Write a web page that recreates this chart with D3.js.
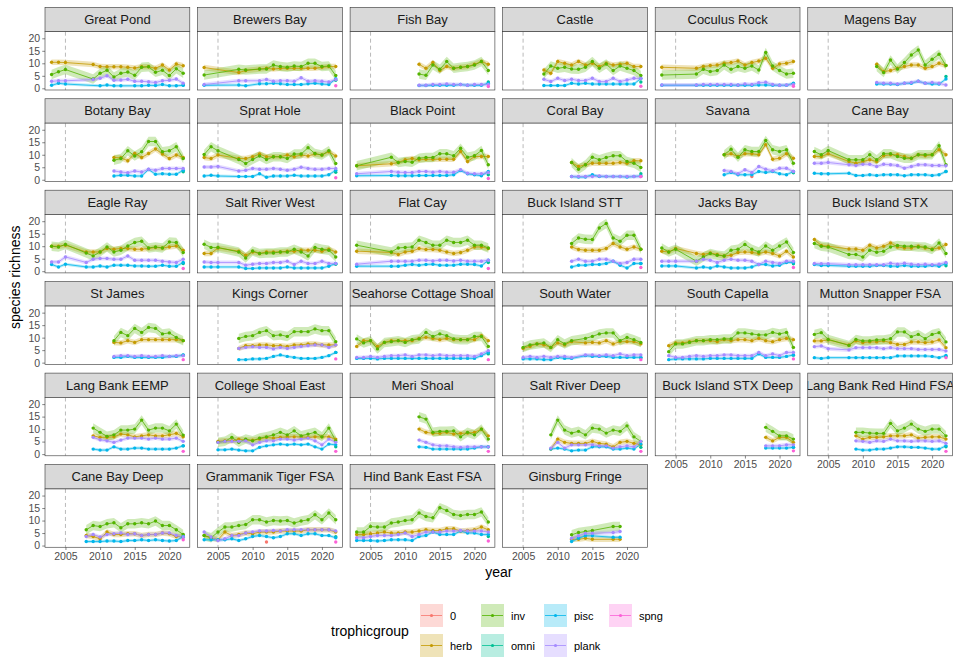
<!DOCTYPE html>
<html>
<head>
<meta charset="utf-8">
<script src="https://cdn.jsdelivr.net/npm/d3@7"></script>
<style>
  body { margin: 0; background: #fff; }
  svg { display: block; font-family: "Liberation Sans", Arial, Helvetica, sans-serif; }
</style>
</head>
<body>
<div id="chart"></div>
<script>
// trophic groups and ggplot hue colours
var groups = ["0", "herb", "inv", "omni", "pisc", "plank", "spng"];
var groupColors = ["#F8766D", "#C49A00", "#53B400", "#00C094", "#00B6EB", "#A58AFF", "#FB61D7"];

var sites = ["Great Pond", "Brewers Bay", "Fish Bay", "Castle", "Coculus Rock", "Magens Bay",
  "Botany Bay", "Sprat Hole", "Black Point", "Coral Bay", "Savana", "Cane Bay",
  "Eagle Ray", "Salt River West", "Flat Cay", "Buck Island STT", "Jacks Bay", "Buck Island STX",
  "St James", "Kings Corner", "Seahorse Cottage Shoal", "South Water", "South Capella", "Mutton Snapper FSA",
  "Lang Bank EEMP", "College Shoal East", "Meri Shoal", "Salt River Deep", "Buck Island STX Deep", "Lang Bank Red Hind FSA",
  "Cane Bay Deep", "Grammanik Tiger FSA", "Hind Bank East FSA", "Ginsburg Fringe"];

// survey years
var yrsGP = [2003, 2004, 2005, 2009, 2010, 2011, 2012, 2013, 2014, 2015, 2016, 2017, 2018, 2019, 2020, 2021, 2022];
var yrsBB = [2003, 2008, 2009, 2011, 2012, 2013, 2014, 2015, 2016, 2017, 2018, 2019, 2020, 2021, 2022];
var yrs12 = [2012, 2013, 2014, 2015, 2016, 2017, 2018, 2019, 2020, 2021, 2022];
var yrs08 = [2008, 2009, 2010, 2011, 2012, 2013, 2014, 2015, 2016, 2017, 2018, 2019, 2020, 2021, 2022];
var yrs03b = [2003, 2008, 2009, 2010, 2011, 2012, 2013, 2014, 2015, 2016, 2017, 2018, 2019, 2020, 2021, 2022];
var yrsA = [2003, 2004, 2005, 2008, 2009, 2010, 2011, 2012, 2013, 2014, 2015, 2016, 2017, 2018, 2019, 2020, 2021, 2022];
var yrs03 = [2003, 2004, 2005, 2006, 2007, 2008, 2009, 2010, 2011, 2012, 2013, 2014, 2015, 2016, 2017, 2018, 2019, 2020, 2021, 2022];
var yrsSW = [2005, 2006, 2007, 2008, 2009, 2010, 2011, 2012, 2014, 2015, 2016, 2017, 2018, 2019, 2020, 2021, 2022];
var yrs04 = [2004, 2005, 2006, 2007, 2008, 2009, 2010, 2011, 2012, 2013, 2014, 2015, 2016, 2017, 2018, 2019, 2020, 2021, 2022];
var yrs05 = [2005, 2006, 2007, 2008, 2009, 2010, 2011, 2012, 2013, 2014, 2015, 2016, 2017, 2018, 2019, 2020, 2021, 2022];
var yrs09 = [2009, 2010, 2011, 2012, 2013, 2014, 2015, 2016, 2017, 2018, 2019, 2020, 2021, 2022];
var yrs18 = [2018, 2019, 2020, 2021, 2022];
var yrsGF = [2012, 2013, 2014, 2015, 2018, 2019];

var siteYears = [yrsGP, yrsBB, yrs12, yrs08, yrs03b, yrs12,
  yrs12, yrsA, yrs03b, yrs12, yrs12, yrsA,
  yrsA, yrsA, yrs03b, yrs12, yrsA, yrsA,
  yrs12, yrs08, yrs03, yrsSW, yrs04, yrsA,
  yrs09, yrs05, yrs12, yrs09, yrs18, yrs09,
  yrs08, yrs03, yrs03, yrsGF];

var herbVals = [
  [10.4,10.4,10.3,9.5,8.7,8.6,8.6,8.6,8.4,8.1,8.6,8.6,8.0,9.3,7.3,9.7,9.0],
  [8.3,6.3,7.1,7.7,8,7.7,8,8,8,8,8,8,8.4,8.7,8.7],
  [9.6,8.0,10.3,7.1,8.7,8.0,8.4,8.7,9.6,10.7,9.6],
  [7.3,6.0,10.7,10,9.3,10.7,9.3,10,8.7,10,9.3,9.6,10,8.7,8.7],
  [8.4,8,8.7,9.1,9.3,10,10.3,10.9,9.3,10.3,10.9,12,8,9.7,10,10.7],
  [9.6,6.7,7.1,8,8.7,9.3,9.3,8,8.7,10,9.1],
  [8.9,8.8,7.6,10.5,8.9,10.5,12.3,10.3,8.5,9.9,8.9],
  [8.9,8.5,9.9,8.5,8.5,9.2,10.3,9.2,9.2,9.2,9.9,9.2,9.9,9.5,10.3,9.9,11.2,9.5],
  [5.6,6.4,6.9,8,8.5,8,8.2,8.2,8.2,8.2,8.2,11.3,7.3,9.3,9.3,9.3],
  [6.9,5.3,6,6.6,6.6,6.6,6.6,6.9,6.6,7.6,7.6],
  [10,10.4,9.3,10.4,10.4,10,14,8.2,8.6,10.4,8.6],
  [9.3,9.3,10.4,7.3,6.6,7.3,8,7.3,9.6,10,10,9.3,8.6,10,9.6,10,12,10],
  [10,10,10.4,7.7,7.7,7.7,9.1,8.8,9.1,9.1,8.8,8.8,9.1,9.5,9.3,9.7,10.1,8.4],
  [7.1,7.1,9.3,8,6.4,7.7,7.1,7.7,7.7,7.7,8,8,8.4,8.4,8.4,8,8.8,7.7],
  [8,7.5,6.7,7.7,8,9.1,8.7,8.7,8.4,7.7,7.1,7.5,8.4,9.7,9.7,9.1],
  [9.7,8.7,8.4,8.4,8.4,9.1,11.1,9.7,8.8,9.7,8.8],
  [8,7.7,9.1,7.1,6.7,7.3,6.7,6.1,6.4,7.5,7.7,7.5,7.1,7.7,7.1,6.1,8,5.7],
  [12.7,10.3,10,8.9,8.9,8.4,10.4,9.3,10,11.3,9.7,9.3,9.3,10,9.3,8.9,9.3,10.7],
  [8.1,7.9,8.8,8.1,9.2,9.2,9.2,9.2,9.2,9.2,8.8],
  [5.7,6.8,6.8,7.1,7.1,6.8,6.8,6.5,7.1,7.1,7.5,7.5,7.1,7.1,7.1],
  [6.5,8.8,8.8,6.5,8.1,8.8,8.8,8.8,8.8,9.7,10.1,9.7,9.2,9.7,9.2,9.2,9.2,9.2,10.8,8.8],
  [5.7,6.5,7.5,7.1,6.1,7.9,7.1,8.4,7.9,8.1,7.9,8.8,7.5,8.4,8.4,8.4,7.5],
  [6.8,7.9,7.9,8.4,8.8,8.8,8.8,8.4,9.2,8.8,9.2,9.2,8.8,9.7,8.8,8.4,9.2,9.7,9.2],
  [8.7,8.7,9.1,7.1,8.7,8,8.3,8.3,8.7,8,7.3,7.3,8.3,8.3,8,8.3,9.1,6],
  [7.3,6.7,6.7,6.9,8,7.7,6.9,7.3,7.7,7.3,7.3,7.7,8.3,6.9],
  [5.1,5.3,5.3,6,5.6,5.6,6,6.7,6.4,6.7,6.9,6.9,6.9,6.7,6.9,6.9,6.9,6],
  [10,8.7,8.3,8.3,8.7,8,8.3,8.4,8.7,10,7.3],
  [2,6,4.7,4.3,4.3,4.3,5.1,4.3,4,2.9,4.7,5.1,4.3,3.7],
  [6.7,5.3,6.7,6.7,4.7],
  [7.3,6,6.7,6.7,6.9,7.3,7.3,7.3,7.7,6.4,6.7,6.9,6.9,6],
  [4,3.6,2.7,5.4,4.4,4.4,4.7,4.7,4,4.4,4.4,5,4.7,3.6,3.6],
  [4,3.1,2.3,5.4,4,4.4,5,4.7,5.4,5.4,5.4,5.8,5.8,5.8,5.8,6.3,6.3,6.3,6.3,5.4],
  [4.4,4.4,4.7,5,5.4,5,5,5.4,5.4,5.8,6.3,6,6,6.7,6.7,5.8,6,6.3,7.4,6.3],
  [2.5,2.5,2.9,2.5,2.5,2.5]
];

var invVals = [
  [5.5,6.6,7.5,3.7,6.0,7.2,4.5,6.0,6.5,5.2,8.4,8.6,6.4,7.2,5.1,7.8,6.0],
  [5.3,7.6,7.3,7.7,7.7,9.3,8.7,8.4,8.9,8.7,10,10,8.7,8.9,5.1],
  [5.7,5.2,9.3,7.6,10.7,8.0,8.4,8.7,9.3,10.7,7.1],
  [5.7,8.9,8,8.4,7.7,7.6,8.4,10.7,8,9.7,7.1,8.9,8,7.1,5.1],
  [5.3,5.7,7.6,6.7,7.1,9.3,7.6,8.7,8,8.9,7.3,14.3,8.9,7.1,5.7,6],
  [8.7,6.3,11.3,7.7,10.3,13.3,15.3,9.3,11.6,13.6,9.1],
  [7.8,8.5,11.6,9.5,11.2,15.3,15.3,11.2,11.6,13.2,8.5],
  [10.1,13.2,11.6,8.1,6.5,8.1,9.5,8.1,9.2,9.2,8.5,10.3,10.3,12.8,10.5,9.9,11.6,6.5],
  [5.6,9,6.9,7.3,7,8.6,8.9,8.9,10.4,10.4,9.6,12.6,9,9.6,11.7,6],
  [6.9,4.2,6,9,8,8.9,9.6,9.6,7.3,6.6,4.9],
  [10,12.2,9,12,11.3,11.3,15.7,12,11.3,12,6.6],
  [11.3,10,11.7,8,8,8,10,8,10.4,10.4,9.3,8.6,8.6,10,10,10,13.6,6],
  [10,9.7,10.7,7.3,6.1,7.7,9.7,7.7,8.4,10.1,11.5,12,9.3,9.7,9.3,11.7,11.5,7.5],
  [10.8,9.5,9.5,7.7,5.3,8.1,7.1,7.3,7.3,7.7,7.7,8.8,7.7,6.1,9.5,8.8,8.4,5.7],
  [10.4,7.7,9.3,9.5,9.7,12.4,11.5,10.4,10.4,12.4,11.5,11.5,12.4,10.4,10.4,9.3],
  [11.1,13.3,12.8,12.7,17.3,19.1,13.3,12,14.4,14.4,8.8],
  [9.3,7.7,8.8,4,5.7,7.1,6.4,6.1,8.4,8.8,10.7,8.8,7.7,10.1,8.4,10.1,11.7,7.5],
  [11.1,10,9.7,6.7,6.7,5.7,8.4,7.6,8,9.7,10.3,10,10,9.7,9.7,8.7,11.3,7.1],
  [8.8,12.1,10.8,13.7,12.1,14.1,13.7,11.5,11.9,10.1,8.8],
  [9.7,10.5,10.8,12.1,12.8,10.8,11.1,10.5,12.4,12.4,12.4,13.5,12.8,12.8,8.4],
  [9.5,7.9,8.8,5.5,8.1,8.4,8.8,8.1,9.2,9.5,12.1,10.5,11.5,10.8,9.5,9.2,9.2,10.5,10.5,6.5],
  [6.1,7.1,7.5,7.9,6.1,9.2,7.5,8.8,9.7,10.5,11.5,11.9,11.9,8.8,10.1,9.2,8.1],
  [4.4,7.5,7.5,8.1,8.8,8.8,9.2,9.2,9.5,9.5,11.9,11.9,11.5,11.1,11.1,12.1,11.5,12.1,6.1],
  [11.3,12,9.3,6.9,9.3,8.7,8.7,9.1,9.1,9.6,12.3,12.3,10.4,11.3,9.6,11.3,12,8.3],
  [10.4,8.7,7.1,7.7,9.6,9.6,10,13.6,9.6,10.4,10.4,9.3,12,7.6],
  [4.7,5.1,6.7,4.7,6,5.3,6.4,6.9,7.7,8.7,7.7,9.3,7.3,8,8.7,6.9,10.4,5.3],
  [14.9,14,8.7,9.1,9.1,9.3,6.9,8.7,7.7,10,6],
  [7.7,13.6,9.6,8.4,9.1,7.7,10.4,10,8.4,9.6,9.1,11.3,6.9,5.1],
  [10.7,9.1,7.3,7.3,6],
  [8.7,8.7,8.4,8.3,8.3,12.3,9.3,10.4,12,10,9.1,10,10,7.3],
  [6.3,8,7.6,8.7,9.1,7.1,8.7,8.7,9.1,8.7,9.8,8,8,6.3,4.4],
  [4,3.1,5.4,7.4,7.4,8,8.4,10.3,10.3,9.4,10,9.8,10,9,9.8,10.3,12.3,10.3,13,10.3],
  [5.4,5.4,7.6,7.4,7.4,9,9.4,10,10.3,13,11.6,11.1,15.1,14,12.4,12,12.4,12.4,13.4,9.4],
  [4.3,5.2,5.6,6,7.6,7.6]
];

var piscVals = [
  [1.2,2.0,1.7,null,1.0,1.3,1.0,1.0,null,1.0,1.0,1.2,1.1,1.5,1.0,1.0,1.2],
  [1.2,1.3,1.0,1.8,1.8,2.0,1.8,1.5,1.5,1.5,1.8,2.0,1.7,1.5,3.8],
  [1.1,1.1,1.2,1.2,1.2,1.2,1.5,1.2,1.2,1.2,2.0],
  [1.1,1.1,1.1,1.1,2,1.7,2,1.7,1.7,1.7,1.7,1.7,1.7,1.7,3.9],
  [1.2,1.2,1.2,1.2,1.2,1.2,1.2,1.2,1.2,1.2,1.3,1.3,1.2,1.2,1.2,2.0],
  [1.7,1.7,1.7,1.5,2.0,2.0,2.8,2.0,1.7,1.7,3.7],
  [1.5,1.8,1.8,1.5,1.5,4.1,2.2,2.4,2.2,2.2,3.8],
  [1.5,1.8,1.5,1.3,1.3,1.3,2.4,1.0,1.5,1.5,1.5,1.8,1.5,1.5,1.5,1.5,2.0,3.8],
  [1.6,1.7,1.6,1.6,1.6,1.7,1.7,1.7,1.7,1.7,2,3.7,2.4,2,1.6,3.3],
  [1.3,1.1,1.1,2,1.3,1.3,1.3,1.3,1.1,1.3,1.5],
  [2,2.9,2,2,2,3.3,2.9,3.3,2.4,2,3.3],
  [2.6,2.4,2.4,2.6,1.7,1.7,2,1.7,2,2,2,1.6,2,2,2,1.7,2,3.3],
  [2.7,1.7,2.8,1.7,1.7,2.1,1.7,2.4,2.4,2.4,2.1,2.1,2,2,2.4,2,2,3.5],
  [1.7,1.7,1.7,1.7,1.1,1.1,1.3,1.3,1.3,1.3,1.7,1.3,1.3,1.3,1.3,1.3,2,3.1],
  [2,2,2,2.4,2.7,2.4,2.7,2.8,2.4,2.4,2.4,2.8,2.8,2.7,2.1,4.4],
  [1.7,2.4,2.4,2.7,2.7,3.1,4,2.4,1.3,3.1,3.1],
  [2.1,2.1,2.1,1.3,1.7,1.3,2.1,1.7,1.3,1.3,1.3,1.7,2.7,2.7,2.1,2.4,3.5,3.5],
  [2.7,2.3,2.3,2.0,2.0,2.0,2.0,2.3,2.3,2.0,2.0,2.3,2.0,2.0,2.0,2.3,2.0,3.0],
  [2.1,2.1,2.5,2.1,2.1,2.1,2.1,2.1,2.5,2.5,3.1],
  [1.2,1.2,1.5,1.5,1.7,2.5,3.1,2.5,2.1,1.7,1.7,1.7,2.1,2.8,4.1],
  [1.7,1.7,1.7,1.5,1.7,1.7,1.7,1.7,1.7,1.7,1.7,1.7,1.7,1.7,1.7,1.7,1.7,1.7,2.8,4.1],
  [1.5,1.5,1.5,1.2,1.2,2.1,1.7,1.7,2.8,2.5,2.5,2.5,2.1,2.1,2.1,2.1,2.1],
  [1.2,1.5,1.5,1.5,1.5,1.5,1.7,1.7,1.7,1.7,1.7,1.7,1.7,3.5,2.1,2.1,2.1,2.5,3.1],
  [2,1.7,2,2,2,2,2,2,2,2,2.7,2.7,2.7,2.7,2.7,2.5,2,2.9],
  [2,1.6,1.6,2.9,2,2,2.4,2.4,2,2,2,2,2.4,3.3],
  [1.7,1.7,2,1.6,1.3,1.3,2.7,3.3,3.7,4,3.7,4,3.7,4,2.9,2,4,3.7],
  [2.9,2.7,2,2,2,2,2,2,2.4,2.9,2.9],
  [2,2.4,2,1.3,1.6,1.6,2.9,2.9,2.9,2,2,2.4,2,4],
  [2.4,2.4,2.4,2.4,2.7],
  [2,1.6,1.6,2,2,2.4,2.9,2.9,2.7,2.7,2.4,2,2,3.3],
  [1.6,1.6,1.6,1.8,1.8,1.6,2,2,2.3,2,2.3,2,1.8,2,3.6],
  [2.3,2.3,2.3,2.3,2.7,2,2.7,3.6,4,3.6,3.1,3.6,4.7,4.7,4,4.7,4.7,4,4,3.1],
  [2,2,2,1.8,2,2.3,2.3,2.3,2,3.6,4,5.4,4.4,4.4,4.4,5.8,5,5,4.4,4.4],
  [1.6,2.9,3.9,3.9,3.3,3.3]
];

var plankVals = [
  [2.8,3.0,3.0,3.5,4.0,5.0,3.2,3.3,3.6,2.8,2.8,2.6,2.3,3.0,3.2,3.7,2.0],
  [1.5,3.0,3.0,3.0,3.5,2.8,3.0,3.0,2.8,4.2,2.8,3.0,2.8,2.5,3.5],
  [1.2,1.2,1.5,1.5,1.7,1.5,1.5,1.2,1.5,1.5,1.5],
  [3.6,2.7,4,3.1,3.6,3.1,3.1,4,2.7,2.7,4,2.7,3.3,4,3.9],
  [1.3,1.3,1.5,1.5,1.5,1.5,1.5,1.3,1.7,1.5,2.2,2.4,1.5,1.2,1.3,1.5],
  [2.3,2.0,2.0,1.7,2.0,2.3,2.8,2.0,2.3,2.0,1.3],
  [3.5,3.1,2.8,3.5,3.1,4.2,3.8,4.5,4.5,4.5,4.5],
  [5.1,5.1,5.3,3.5,3.8,4.5,4.2,4.2,4.5,4.2,3.8,4.2,5.0,4.5,4.2,4.2,4.5,4.5],
  [2.4,3.3,3,2.9,2.9,3.3,3.3,3,3.3,3,3,4,2.6,2.4,2.4,2.9],
  [1.3,1.3,1.3,1.3,1.5,1.3,1.3,1.3,1.3,1.3,1.3],
  [3.7,3.3,2.4,4,2.9,5.3,4.2,3.6,4.6,4.6,3.3],
  [6.6,6.6,6.9,6,5.7,6.2,6.2,5.3,6.2,6,5.7,4.6,5.3,6,6,5.7,5.7,5.6],
  [3.7,3.7,5.7,3.5,4.8,5.1,5.1,4.8,4.8,6.1,4.4,4.4,4.4,4.4,4,3.7,3.5,4.8],
  [3.7,3.5,3.5,3.5,2.4,2.8,3.1,3.1,3.5,3.5,4,2.7,4,3.1,3.1,4,3.1,3.1],
  [2.8,4,4,4,4,4.4,4.4,4.1,4.4,4.4,4.1,4.4,4,4,4,4.4],
  [4,4.8,4,4,4.8,4.8,4,3.1,3.5,4.8,4.8],
  [4,4,4,4,4.8,4.4,3.5,4.4,4.8,4.4,4.4,4,2.7,4,3.5,3.1,4,4],
  [3.1,3.0,3.0,2.6,2.6,2.6,2.6,2.6,2.6,3.2,2.8,3.2,2.8,2.6,2.8,2.6,2.8,3.5],
  [2.5,2.8,2.8,2.5,2.8,2.5,2.5,2.8,2.5,2.8,2.8],
  [5.7,6.1,6.4,6.1,6.1,5.5,6.1,5.7,6.1,6.5,6.8,7.1,7.1,6.1,7.1],
  [2.1,2.1,2.5,2.1,2.5,2.8,2.8,3.1,2.5,3.1,3.1,2.8,3.1,2.8,2.8,2.8,2.8,2.5,3.5,4.8],
  [2.1,2.5,2.1,2.5,2.1,2.5,2.5,2.1,3.1,3.1,2.8,3.1,2.8,3.5,2.8,3.1,3.1],
  [2.8,2.1,2.1,2.5,2.8,2.5,2.8,2.8,3.1,3.1,2.8,2.8,2.8,4.1,2.8,3.5,2.8,4.1,4.1],
  [6.4,6.7,5.6,5.1,6,6,6,6,5.6,6,5.6,5.6,5.6,5.3,5.3,5.3,5.3,4.7],
  [6.7,5.7,5.3,4.7,5.6,6.4,6.4,6.4,6,6.4,6,6,6.4,5.1],
  [4.7,5.1,5.1,5.1,5.3,3.7,4.7,5.3,5.3,6,6,5.6,6,6.4,5.3,3.7,6,4.7],
  [5.6,4.7,3.7,3.3,3.3,2.9,2.7,2.9,2.9,2.9,2.9],
  [2.4,4.7,2.4,3.7,3.7,3.7,3.7,3.3,3.3,2.4,2.9,3.3,2.9,5.1],
  [3.3,3.3,3.3,3.7,3.7],
  [5.3,5.1,4.7,5.3,5.1,6,5.3,5.3,5.1,5.3,5.3,5.1,5.3,4.3],
  [3.6,4.4,3.4,4.4,4.7,5,4.4,4.7,4,4.4,4.4,5,5,4,3.4],
  [5.4,3.4,2,2.7,4,4,5,5.4,5.8,5.8,6,5.8,6.3,6.3,6.3,6.3,6.3,6.3,6.3,5.8],
  [3.1,3.1,3.6,4,4,4,4.4,5,3.6,4.4,5.4,5.4,5.4,5.8,5.8,6,5.8,5.8,5.8,5.4],
  [2.9,3.9,4.9,4.9,5.2,5.6]
];

// single 2022 observations (null = none)
var omni2022 = [1.3, 3.2, 2.5, 2.5, 1.8, 4.7, 3.2, 3.0, 2.0, 2.4, 2.8, 3.3,
  3.1, 2.8, 3.5, 3.1, 3.0, 2.2, 3.0, 4.1, 3.5, 2.0, 3.0, 2.5,
  3.3, 2.9, 2.9, 2.7, 2.7, 2.9, 3.3, 3.5, 3.6, null];
var spng2022 = [null, 1.0, 0.7, 0.8, 0.8, null, null, 0.8, 0.5, 1.3, null, null,
  1.1, null, 1.1, 1.5, 1.5, null, 1.2, 1.5, 1.2, 1.2, 1.5, 2.0,
  1.1, 1.1, 1.1, 1.1, 1.3, 1.1, 2.3, 1.4, 1.8, null];
// "0" group points: [site index, year, value]
var zeroPts = [[10, 2016, 1.3], [31, 2012, 1.4]];

// half width of the confidence ribbons
var bandHalf = {herb: 1.1, inv: 1.9, pisc: 0.6, plank: 0.8};

var xTicks = [2005, 2010, 2015, 2020];
var yTicks = [0, 5, 10, 15, 20];

var W = 960, H = 672;
var ncol = 6, gridLeft = 45, colStep = 152.55, panelW = 144.8;
var gridTop = 7.3, rowStep = 91.45, stripH = 24.4, panelH = 58.3;

var color = d3.scaleOrdinal().domain(groups).range(groupColors);
var x = d3.scaleLinear().domain([2002.05, 2022.95]).range([0, panelW]);
var y = d3.scaleLinear().domain([-0.68, 22.64]).range([panelH, 0]);

var lineGroups = ["herb", "inv", "pisc", "plank"];
var valsOf = {herb: herbVals, inv: invVals, pisc: piscVals, plank: plankVals};

var svg = d3.select("#chart").append("svg")
    .attr("width", W)
    .attr("height", H);

svg.append("rect").attr("width", W).attr("height", H).attr("fill", "#fff");

var defs = svg.append("defs");
defs.append("clipPath").attr("id", "panelClip")
  .append("rect").attr("width", panelW).attr("height", panelH);
defs.append("clipPath").attr("id", "stripClip")
  .append("rect").attr("width", panelW).attr("height", stripH);

var area = d3.area()
    .x(function(d) { return x(d.year); })
    .y0(function(d) { return y(d.v - d.h); })
    .y1(function(d) { return y(d.v + d.h); });

var line = d3.line()
    .x(function(d) { return x(d.year); })
    .y(function(d) { return y(d.v); });

function seriesOf(i, g) {
  return siteYears[i].map(function(yr, k) {
    return {year: yr, v: valsOf[g][i][k], h: bandHalf[g]};
  }).filter(function(d) { return d.v != null; });
}

function lastRow(c) { return Math.floor((sites.length - 1 - c) / ncol); }

sites.forEach(function(name, i) {
  var c = i % ncol, r = Math.floor(i / ncol);
  var gx = gridLeft + c * colStep, gy = gridTop + r * rowStep;

  // strip
  var strip = svg.append("g").attr("transform", "translate(" + gx + "," + gy + ")");
  strip.append("rect")
      .attr("width", panelW).attr("height", stripH)
      .attr("fill", "#D9D9D9").attr("stroke", "#333").attr("stroke-width", 0.6);
  strip.append("g").attr("clip-path", "url(#stripClip)")
    .append("text")
      .attr("x", panelW / 2).attr("y", stripH / 2)
      .attr("text-anchor", "middle").attr("dominant-baseline", "central")
      .attr("font-size", 13).attr("fill", "#1A1A1A")
      .text(name);

  var panel = svg.append("g").attr("transform", "translate(" + gx + "," + (gy + stripH) + ")");
  panel.append("rect").attr("width", panelW).attr("height", panelH).attr("fill", "#fff");

  var plot = panel.append("g").attr("clip-path", "url(#panelClip)");

  plot.append("line")
      .attr("x1", x(2005)).attr("x2", x(2005))
      .attr("y1", 0).attr("y2", panelH)
      .attr("stroke", "#A8A8A8").attr("stroke-width", 0.8)
      .attr("stroke-dasharray", "4,3");

  lineGroups.forEach(function(g) {
    plot.append("path").datum(seriesOf(i, g))
        .attr("d", area)
        .attr("fill", color(g)).attr("fill-opacity", 0.28);
  });
  lineGroups.forEach(function(g) {
    plot.append("path").datum(seriesOf(i, g))
        .attr("d", line)
        .attr("fill", "none").attr("stroke", color(g)).attr("stroke-width", 0.8);
  });

  var pts = [];
  zeroPts.forEach(function(p) { if (p[0] === i) pts.push({g: "0", year: p[1], v: p[2]}); });
  ["herb", "inv"].forEach(function(g) {
    seriesOf(i, g).forEach(function(d) { pts.push({g: g, year: d.year, v: d.v}); });
  });
  if (omni2022[i] != null) pts.push({g: "omni", year: 2022, v: omni2022[i]});
  ["pisc", "plank"].forEach(function(g) {
    seriesOf(i, g).forEach(function(d) { pts.push({g: g, year: d.year, v: d.v}); });
  });
  if (spng2022[i] != null) pts.push({g: "spng", year: 2022, v: spng2022[i]});

  plot.selectAll("circle.pt")
    .data(pts)
    .enter()
    .append("circle")
      .attr("class", "pt")
      .attr("cx", function(d) { return x(d.year); })
      .attr("cy", function(d) { return y(d.v); })
      .attr("r", 1.7)
      .attr("fill", function(d) { return color(d.g); });

  panel.append("rect").attr("width", panelW).attr("height", panelH)
      .attr("fill", "none").attr("stroke", "#333").attr("stroke-width", 0.6);

  // y axis on first column
  if (c === 0) {
    var yAxis = d3.axisLeft(y).tickValues(yTicks).tickSize(2.75).tickPadding(2.2);
    var ya = panel.append("g").call(yAxis);
    ya.select(".domain").remove();
    ya.selectAll("line").attr("stroke", "#333").attr("stroke-width", 0.6);
    ya.selectAll("text").attr("font-size", 10.5).attr("fill", "#4D4D4D")
      .attr("font-family", "Liberation Sans, Arial, sans-serif");
  }
  // x axis under the last panel of each column
  if (r === lastRow(c)) {
    var xAxis = d3.axisBottom(x).tickValues(xTicks).tickFormat(d3.format("d"))
        .tickSize(2.75).tickPadding(2.2);
    var xa = panel.append("g").attr("transform", "translate(0," + panelH + ")").call(xAxis);
    xa.select(".domain").remove();
    xa.selectAll("line").attr("stroke", "#333").attr("stroke-width", 0.6);
    xa.selectAll("text").attr("font-size", 10.5).attr("fill", "#4D4D4D")
      .attr("font-family", "Liberation Sans, Arial, sans-serif");
  }
});

// axis titles
var plotLeft = gridLeft, plotRight = gridLeft + 5 * colStep + panelW;
svg.append("text")
    .attr("x", (plotLeft + plotRight) / 2).attr("y", 577)
    .attr("text-anchor", "middle").attr("font-size", 14)
    .text("year");

svg.append("text")
    .attr("transform", "translate(20," + ((gridTop + gridTop + 5 * rowStep + stripH + panelH) / 2) + ") rotate(-90)")
    .attr("text-anchor", "middle").attr("font-size", 14)
    .text("species richness");

// legend
var legend = svg.append("g");
legend.append("text")
    .attr("x", 331).attr("y", 631)
    .attr("dominant-baseline", "central").attr("font-size", 14)
    .text("trophicgroup");

var keyX = [420, 481, 544, 609], keyY = [604, 634], keyS = 23;
groups.forEach(function(g, k) {
  var kx = keyX[Math.floor(k / 2)], ky = keyY[k % 2];
  var key = legend.append("g").attr("transform", "translate(" + kx + "," + ky + ")");
  key.append("rect").attr("width", keyS).attr("height", keyS)
      .attr("fill", color(g)).attr("fill-opacity", 0.28);
  key.append("line")
      .attr("x1", 1).attr("x2", keyS - 1)
      .attr("y1", keyS / 2).attr("y2", keyS / 2)
      .attr("stroke", color(g)).attr("stroke-width", 0.8);
  key.append("circle").attr("cx", keyS / 2).attr("cy", keyS / 2).attr("r", 1.6)
      .attr("fill", color(g));
  legend.append("text")
      .attr("x", kx + keyS + 7).attr("y", ky + keyS / 2)
      .attr("dominant-baseline", "central").attr("font-size", 11)
      .text(g);
});
</script>
</body>
</html>
